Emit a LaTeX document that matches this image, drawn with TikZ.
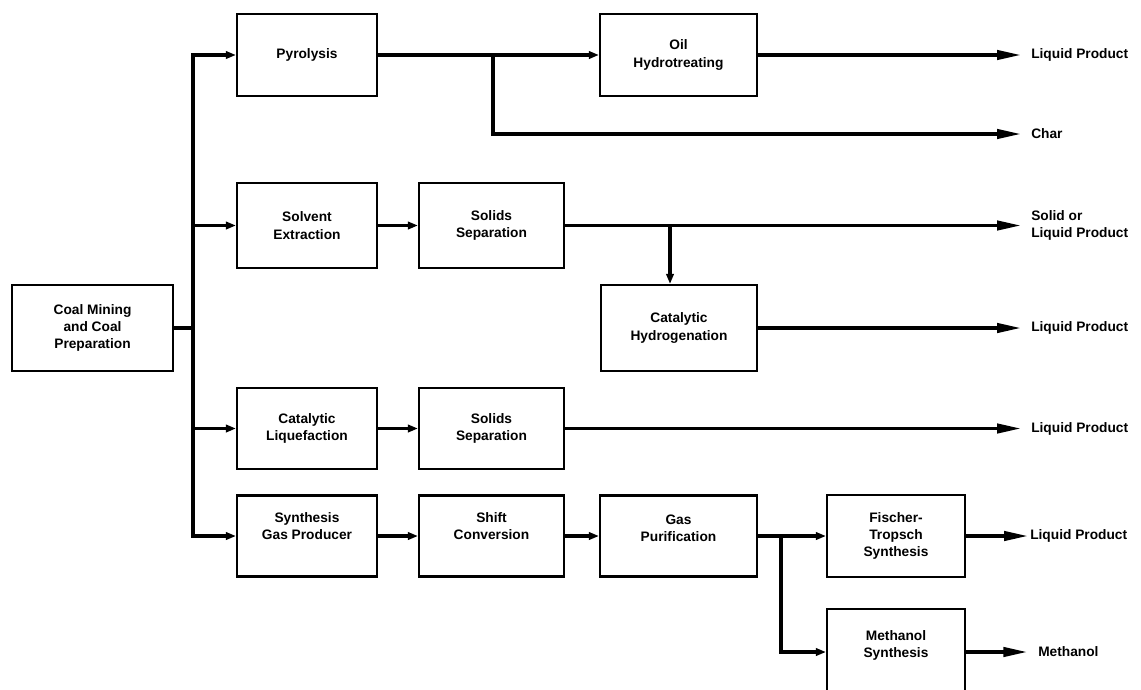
\documentclass[tikz,border=0pt]{standalone}
\usepackage{fontspec}
\setmainfont{Liberation Sans}
\usetikzlibrary{arrows.meta}
\begin{document}
\begin{tikzpicture}[x=0.75pt,y=-0.75pt,
  font=\fontsize{10.3}{13}\selectfont\bfseries,
  box/.style={draw, line width=1.6pt, align=center, inner sep=0pt},
  wh/.style 2 args={minimum width=#1*0.75pt, minimum height=#2*0.75pt},
  flow/.style={line width=2.5pt},
  into/.style={flow, -{Triangle[length=7.5pt,width=5.5pt]}},
  out/.style={flow, -{Triangle[length=18pt,width=7pt]}, shorten >=#1},
  out/.default=7.5pt,
  prod/.style={anchor=west, inner sep=0pt, align=left},
  upper/.style={text depth=#1}]
\useasboundingbox (0,0) rectangle (1141,689);
\clip (0,0) rectangle (1141,689);

% boxes
\node[box, wh={161}{86}] (coal) at (92.5,328) {Coal Mining\\and Coal\\Preparation};
\node[box, wh={140}{82}] (pyro) at (307,55) {Pyrolysis};
\node[box, wh={157}{82}] (oil)  at (678.5,55) {Oil\\Hydrotreating};
\node[box, wh={140}{85}] (solv) at (307,225.5) {Solvent\\Extraction};
\node[box, wh={145}{85}] (sol1) at (491.5,225.5) {Solids\\Separation};
\node[box, wh={156}{86}] (cath) at (679,328) {Catalytic\\Hydrogenation};
\node[box, wh={140}{81}] (catl) at (307,428.5) {Catalytic\\Liquefaction};
\node[box, wh={145}{81}] (sol2) at (491.5,428.5) {Solids\\Separation};
\node[box, wh={140}{81}, upper=15pt] (syn)  at (307,536) {Synthesis\\Gas Producer};
\node[box, wh={145}{81}, upper=15pt] (shift) at (491.5,536) {Shift\\Conversion};
\node[box, wh={157}{81}, upper=12pt] (gasp) at (678.5,536) {Gas\\Purification};
\node[box, wh={138}{82}] (ft)   at (896,536) {Fischer-\\Tropsch\\Synthesis};
\node[box, wh={138}{86}, upper=12pt] (meth) at (896,652) {Methanol\\Synthesis};

% products
\node[prod] (lp1) at (1031,55) {Liquid Product};
\node[prod] (char) at (1031,134) {Char};
\node[prod] (slp) at (1031,225.5) {Solid or\\Liquid Product};
\node[prod] (lp2) at (1031,328) {Liquid Product};
\node[prod] (lp3) at (1031,428.5) {Liquid Product};
\node[prod] (lp4) at (1030,536) {Liquid Product};
\node[prod] (meoh) at (1038,652) {Methanol};

% junctions
\coordinate (tj) at (193,328);
\coordinate (b1) at (493,55);
\coordinate (b2) at (670,225.5);
\coordinate (b3) at (781,536);

% trunk
\draw[flow] (coal.east) -- (tj);
\draw[into] (tj) |- (pyro.west);
\draw[into] (tj) |- (syn.west);
\draw[into] (solv.west -| tj) -- (solv.west);
\draw[into] (catl.west -| tj) -- (catl.west);

% row 1
\draw[into] (pyro.east) -- (oil.west);
\draw[out] (oil.east) -- (lp1.west);
\draw[out] (b1) |- (char.west);

% row 2
\draw[into] (solv.east) -- (sol1.west);
\draw[out] (sol1.east) -- (slp.west);
\draw[into] (b2) -- (b2 |- cath.north);
\draw[out] (cath.east) -- (lp2.west);

% row 4
\draw[into] (catl.east) -- (sol2.west);
\draw[out] (sol2.east) -- (lp3.west);

% row 5
\draw[into] (syn.east) -- (shift.west);
\draw[into] (shift.east) -- (gasp.west);
\draw[flow] (gasp.east) -- (b3);
\draw[into] (b3) -- (ft.west);
\draw[into] (b3) |- (meth.west);
\draw[out=1.5pt] (ft.east) -- (lp4.west);
\draw[out=8pt] (meth.east) -- (meoh.west);
\end{tikzpicture}
\end{document}
